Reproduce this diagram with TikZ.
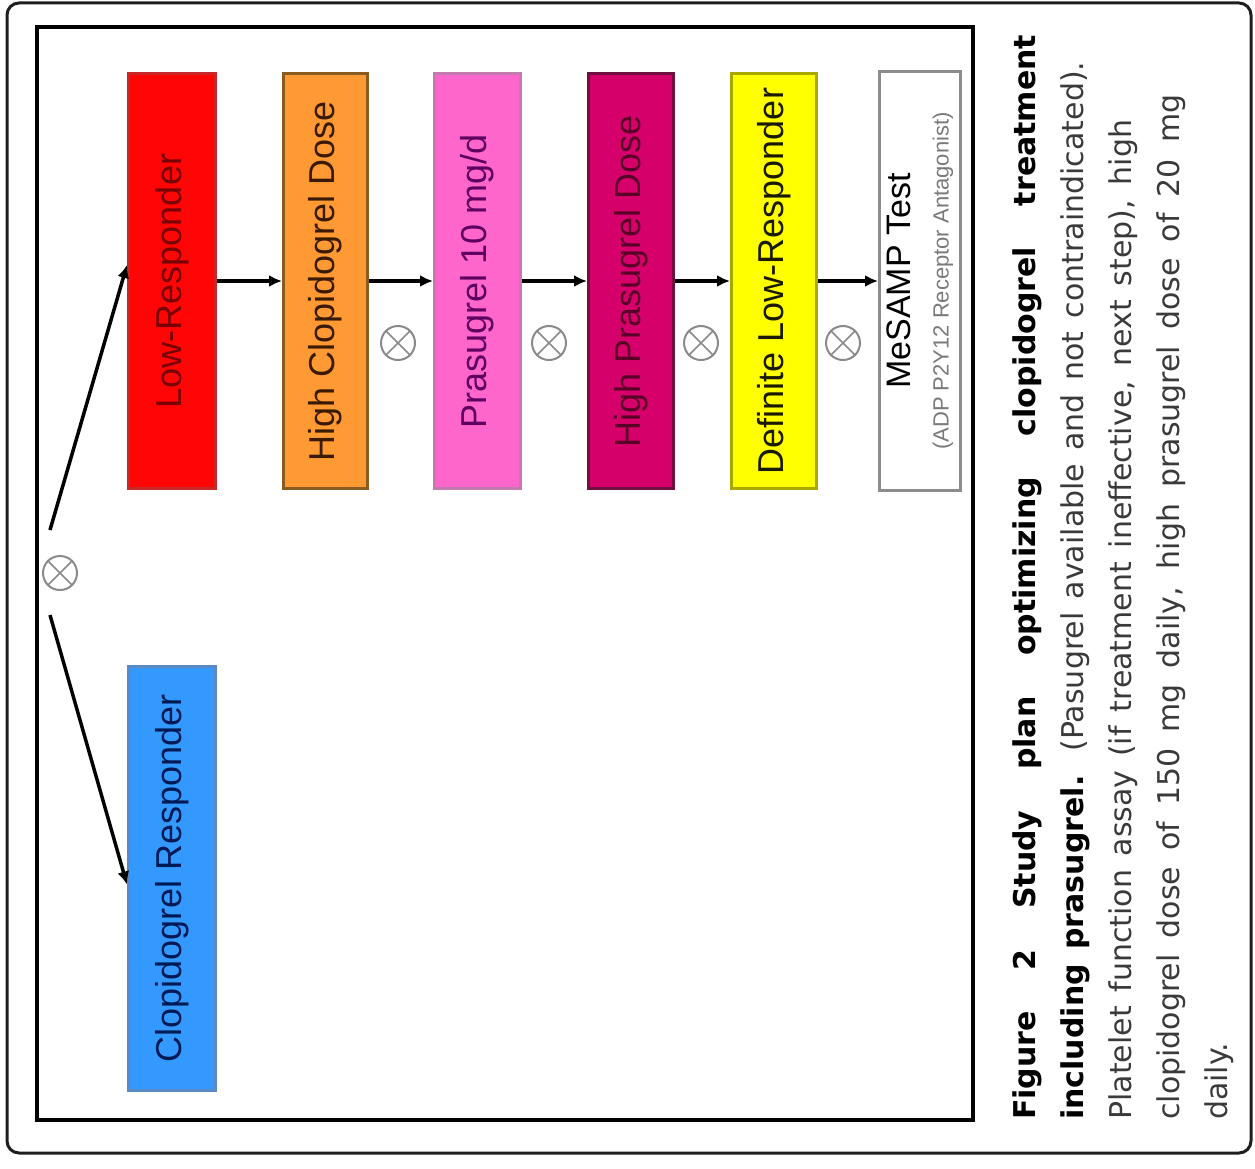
\documentclass[tikz,border=0pt]{standalone}
\usepackage{fontspec}
\setmainfont{Liberation Sans}
\newfontfamily\capfont{DejaVu Sans}
\usetikzlibrary{calc,arrows.meta}
\definecolor{redfill}{HTML}{FF0505}
\definecolor{redline}{HTML}{C82828}
\definecolor{redtext}{HTML}{780000}
\definecolor{orfill}{HTML}{FF9933}
\definecolor{orline}{HTML}{8A5A1E}
\definecolor{ortext}{HTML}{3A1A00}
\definecolor{pkfill}{HTML}{FF66CC}
\definecolor{pkline}{HTML}{C47AAE}
\definecolor{pktext}{HTML}{5E0060}
\definecolor{crfill}{HTML}{D6006A}
\definecolor{crline}{HTML}{6E1040}
\definecolor{crtext}{HTML}{5A0028}
\definecolor{ylfill}{HTML}{FFFF00}
\definecolor{ylline}{HTML}{A8A800}
\definecolor{yltext}{HTML}{1A1A00}
\definecolor{blfill}{HTML}{3399FF}
\definecolor{blline}{HTML}{5A8AC6}
\definecolor{bltext}{HTML}{001A55}
\definecolor{msline}{HTML}{8C8C8C}
\definecolor{mssub}{HTML}{7A7A7A}
\definecolor{otimes}{HTML}{8A8A8A}
\definecolor{capgray}{HTML}{3A3A3A}
\definecolor{frame}{HTML}{1E1E1E}
\begin{document}
\begin{tikzpicture}[x=1pt,y=-1pt,
  stepbox/.style={rotate=90, draw, line width=3pt, inner sep=0pt,
    minimum width=415pt, minimum height=86pt, align=center,
    font=\fontsize{36}{40}\selectfont},
  flow/.style={line width=3.5pt, black, -{Latex[length=13pt,width=12pt]}},
  otnode/.style={circle, draw=otimes, line width=2pt, minimum size=34pt, inner sep=0pt},
  capline/.style={rotate=90, inner sep=0pt, anchor=base west,
    font=\capfont\fontsize{30}{36}\selectfont}]
\useasboundingbox (0,0) rectangle (1255,1169);
% frames
\draw[frame, line width=3pt, rounded corners=12pt] (7,3) rectangle (1251,1153);
\draw[black, line width=3.5pt] (37,27) rectangle (973,1120);
% boxes
\node[stepbox, fill=redfill, draw=redline, text=redtext, minimum height=87pt] (low) at (172,281) {Low-Responder};
\node[stepbox, fill=orfill, draw=orline, text=ortext, minimum height=84pt] (hcd) at (325.5,281) {High Clopidogrel Dose};
\node[stepbox, fill=pkfill, draw=pkline, text=pktext] (pra) at (477.5,281) {Prasugrel 10 mg/d};
\node[stepbox, fill=crfill, draw=crline, text=crtext, minimum height=85pt] (hpd) at (631,281) {High Prasugrel Dose};
\node[stepbox, fill=ylfill, draw=ylline, text=yltext, minimum height=85pt] (dlr) at (774,281) {Definite Low-Responder};
\node[stepbox, fill=white, draw=msline, text=black, minimum height=81pt, minimum width=419pt] (mes) at (920,281)
  {\fontsize{34}{36}\selectfont MeSAMP Test\\[-2pt]{\fontsize{22}{24}\selectfont\color{mssub}(ADP P2Y12 Receptor Antagonist)}};
\node[stepbox, fill=blfill, draw=blline, text=bltext, minimum height=87pt, minimum width=424pt] (resp) at (172,878.5) {Clopidogrel Responder};
% chain arrows
\draw[flow] (low) -- (hcd);
\draw[flow] (hcd) -- (pra);
\draw[flow] (pra) -- (hpd);
\draw[flow] (hpd) -- (dlr);
\draw[flow] (dlr) -- (mes);
% branch
\node[otnode] (ot0) at (60,573) {};
\coordinate (s1) at (50,530);
\coordinate (s2) at (50,615);
\draw[flow] (s1) -- ($(low.north)+(0,-16)$);
\draw[flow] (s2) -- ($(resp.north)+(0,6)$);
% otimes between boxes
\node[otnode] (ot1) at (398,343) {};
\node[otnode] (ot2) at (549,343) {};
\node[otnode] (ot3) at (701,343) {};
\node[otnode] (ot4) at (843,343) {};
\foreach \o in {ot0,ot1,ot2,ot3,ot4}{
  \draw[otimes, line width=1.6pt] (\o.north west) -- (\o.south east);
  \draw[otimes, line width=1.6pt] (\o.north east) -- (\o.south west);
}
% caption
\node[capline] (cap1) at (1035,1120) {\makebox[1085pt][s]{\bfseries Figure 2 Study plan optimizing clopidogrel treatment}};
\node[capline] (cap2) at (1083,1120) {\makebox[1058pt][s]{\textbf{including prasugrel.} \textcolor{capgray}{(Pasugrel available and not contraindicated).}}};
\node[capline, text=capgray] (cap3) at (1131,1120) {\makebox[1000pt][s]{Platelet function assay (if treatment ineffective, next step), high}};
\node[capline, text=capgray] (cap4) at (1179,1120) {\makebox[1025pt][s]{clopidogrel dose of 150 mg daily, high prasugrel dose of 20 mg}};
\node[capline, text=capgray] (cap5) at (1227,1120) {daily.};
\end{tikzpicture}
\end{document}
